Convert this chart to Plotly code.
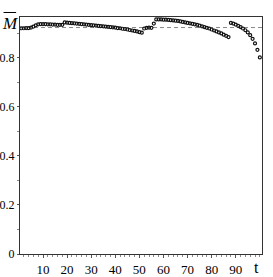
import plotly.graph_objects as go

# time steps
t_values = list(range(1, 101))

# mean values, one per time step
seg_a = [0.921, 0.921, 0.922, 0.922, 0.924, 0.928, 0.933]                      # t 1-7
seg_b = [0.937, 0.938, 0.938, 0.938, 0.937, 0.937, 0.936, 0.936, 0.935, 0.935, 0.935]  # t 8-18
seg_c = [0.945, 0.944, 0.943, 0.942, 0.941, 0.940, 0.939, 0.938, 0.937, 0.936,
         0.935, 0.934, 0.933, 0.932, 0.931, 0.930, 0.929, 0.928, 0.927, 0.926,
         0.925, 0.924, 0.922, 0.921, 0.919, 0.918, 0.916, 0.914, 0.912, 0.910,
         0.908, 0.905, 0.903]                                                   # t 19-51
seg_d = [0.920, 0.923, 0.924, 0.923, 0.940]                                    # t 52-56
seg_e = [0.957, 0.957, 0.957, 0.956, 0.956, 0.955, 0.954, 0.953, 0.952, 0.951,
         0.949, 0.947, 0.945, 0.943, 0.941, 0.939, 0.937, 0.935, 0.932, 0.929,
         0.926, 0.923, 0.920, 0.916, 0.912, 0.908, 0.904, 0.900, 0.895, 0.890,
         0.885]                                                                 # t 57-87
seg_f = [0.943, 0.940, 0.936, 0.931, 0.926, 0.920, 0.913, 0.904, 0.893, 0.878,
         0.859, 0.833, 0.802]                                                   # t 88-100
m_values = seg_a + seg_b + seg_c + seg_d + seg_e + seg_f

reference_level = 0.924
y_tick_vals = [0, 0.2, 0.4, 0.6, 0.8]
y_tick_text = ["0", "0.2", "0.4", "0.6", "0.8"]
x_tick_vals = [10, 20, 30, 40, 50, 60, 70, 80, 90]
x_tick_text = ["10", "20", "30", "40", "50", "60", "70", "80", "90"]

SERIF = "Liberation Serif"

fig = go.Figure()
fig.add_trace(go.Scatter(
    x=[0.45, 100.9], y=[reference_level, reference_level], mode="lines",
    line=dict(color="#888888", width=1, dash="4px,3px"),
    hoverinfo="skip", showlegend=False,
))
fig.add_trace(go.Scatter(
    x=t_values, y=m_values, mode="markers",
    marker=dict(symbol="circle-open", size=3, color="#111111", line=dict(width=1.2, color="#111111")),
    showlegend=False,
))

fig.update_layout(
    width=273, height=277,
    margin=dict(l=20, r=11, t=17, b=23),
    paper_bgcolor="white", plot_bgcolor="white",
    font=dict(family=SERIF, size=12, color="black"),
    xaxis=dict(
        range=[0.45, 100.9], showgrid=False, zeroline=False, automargin=False,
        showline=True, mirror=True, linecolor="#333333", linewidth=1,
        tickmode="array", tickvals=x_tick_vals, ticktext=x_tick_text,
        ticks="outside", ticklen=3, tickcolor="#555555",
        minor=dict(dtick=2, tick0=0, ticks="outside", ticklen=2, tickcolor="#888888"),
        tickfont=dict(family=SERIF, size=13, color="black"),
    ),
    yaxis=dict(
        range=[0, 0.967], showgrid=False, zeroline=False, automargin=False,
        showline=True, mirror=True, linecolor="#333333", linewidth=1,
        tickmode="array", tickvals=y_tick_vals, ticktext=y_tick_text,
        ticks="outside", ticklen=2, tickcolor="#555555",
        minor=dict(dtick=0.1, tick0=0, ticks="outside", ticklen=2, tickcolor="#888888"),
        tickfont=dict(family=SERIF, size=12, color="black"),
    ),
    annotations=[
        dict(text="<i>M</i>", xref="paper", yref="paper", x=-0.042, y=0.972,
             xanchor="center", yanchor="middle", showarrow=False,
             font=dict(family=SERIF, size=17, color="black")),
        dict(text="t", xref="paper", yref="paper", x=0.979, y=-0.059,
             xanchor="center", yanchor="middle", showarrow=False,
             font=dict(family=SERIF, size=16, color="black")),
    ],
    shapes=[
        dict(type="line", xref="paper", yref="paper", x0=-0.068, x1=-0.016,
             y0=1.019, y1=1.019, line=dict(color="black", width=1)),
    ],
)

fig.write_html("out.html", config={"displayModeBar": False},
               post_script="document.body.style.margin='0';")
